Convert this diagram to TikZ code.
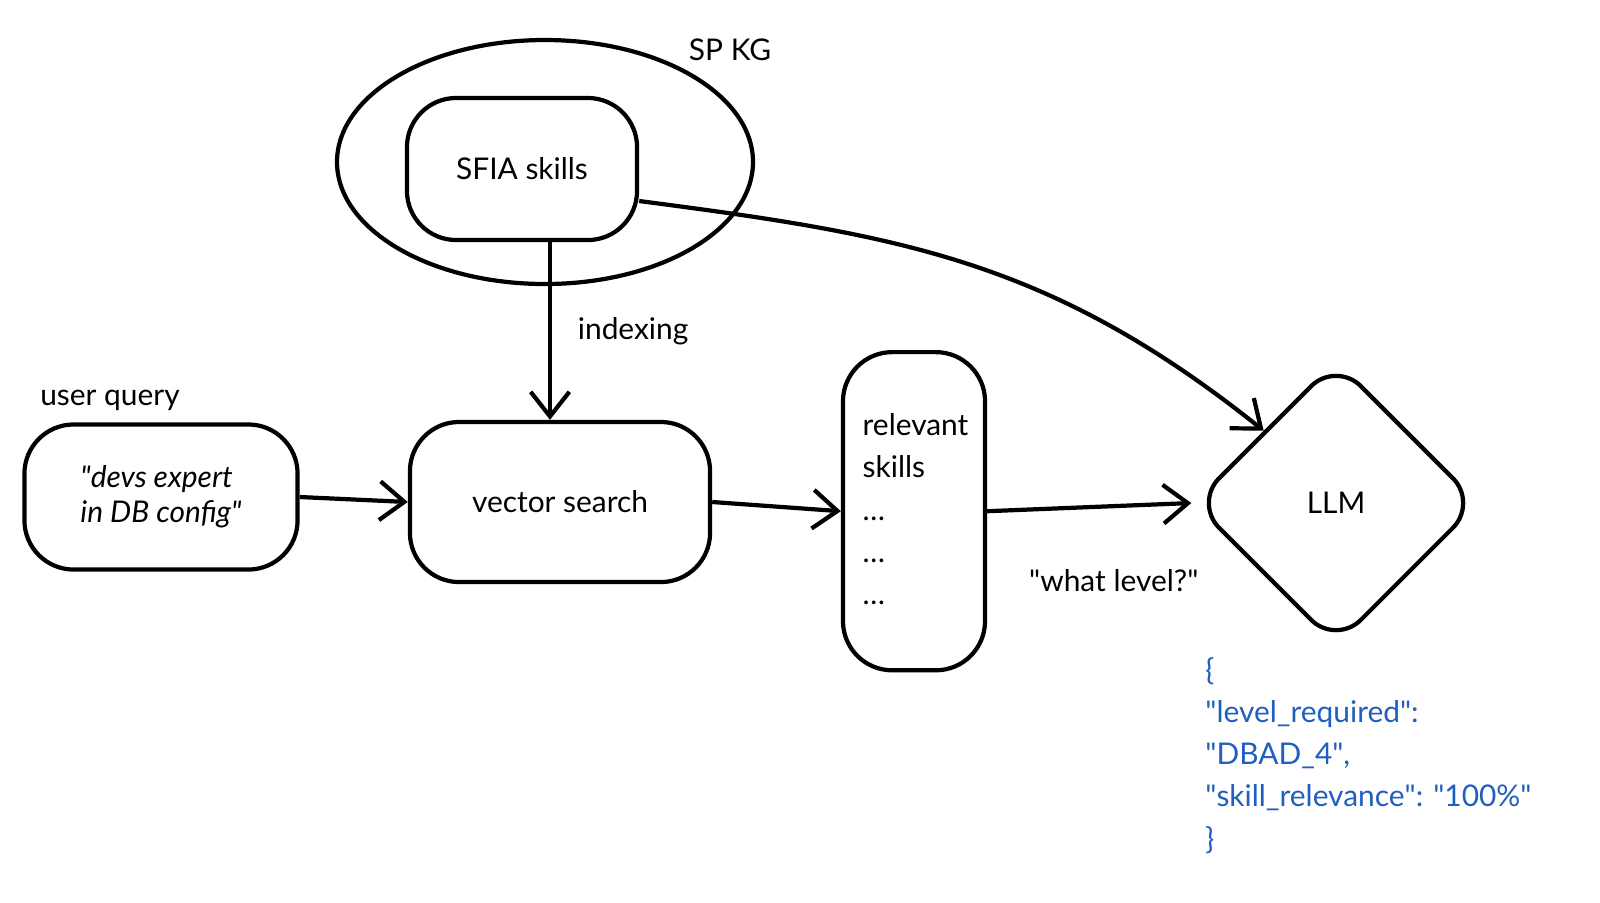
\documentclass[tikz,border=0pt]{standalone}
\usepackage{fontspec}
\setmainfont{Lato}
\usetikzlibrary{shapes.geometric,arrows.meta}
\definecolor{jsonblue}{HTML}{1F5FBF}
\tikzset{
  box/.style={draw, line width=1.2pt, rounded corners=14pt},
  flow/.style={-{Straight Barb[length=7pt,width=11pt]}, line width=1.2pt},
  lbl/.style={font=\fontsize{8.5}{10}\selectfont}
}
\newcommand{\dq}{\textquotedbl}
\begin{document}
\begin{tikzpicture}[x=0.01cm,y=-0.01cm]
  \useasboundingbox (0,0) rectangle (1600,902);

  % knowledge graph
  \draw[line width=1.2pt] (545,162) ellipse (208 and 122);
  \node[lbl] (kg) at (730,50) {SP KG};
  \node[box, lbl, minimum width=2.3cm, minimum height=1.42cm] (sfia) at (522,169) {SFIA skills};

  % main row
  \node[lbl] (uq) at (110,400) {user query};
  \node[box, lbl, minimum width=2.73cm, minimum height=1.45cm, align=left] (query) at (161,497)
    {\itshape \dq devs expert\\ \itshape in DB config\dq};
  \node[box, lbl, minimum width=1.42cm, minimum height=3.18cm, anchor=north] (rel) at (914,350) {};
  \node[box, lbl, minimum width=3cm, minimum height=1.6cm] (vs) at (560,502) {vector search};
  \node[lbl, anchor=north west, align=left, inner sep=0pt] (reltext) at (862,413)
    {relevant\\[2pt] skills\\[2pt] \dots\\[2pt] \dots\\[2pt] \dots};
  \node[draw, line width=1.2pt, diamond, lbl, minimum width=2.85cm, minimum height=2.85cm,
        rounded corners=10pt] (llm) at (1336,503) {LLM};

  % connectors
  \draw[flow] (sfia.south) ++(28,0) coordinate (sfiab) -- (sfiab |- vs.north)
    node[lbl, midway, right, xshift=4pt] {indexing};
  \draw[flow] (query.east) -- (vs.west);
  \draw[flow] (vs.east) -- (rel.west);
  \draw[flow] (rel.east) -- (llm.west) node[lbl, pos=0.62, below=14pt] {\dq what level?\dq};
  \draw[flow] (sfia.east) ++(0,32) .. controls (900,235) and (1050,260) .. (llm.north west);

  % output
  \node[lbl, text=jsonblue, anchor=north west, align=left] (json) at (1193,645)
    {\{\\[2pt] \dq level\_required\dq:\\[2pt] \dq DBAD\_4\dq,\\[2pt] \dq skill\_relevance\dq: \dq 100\%\dq\\[2pt] \}};
\end{tikzpicture}
\end{document}
